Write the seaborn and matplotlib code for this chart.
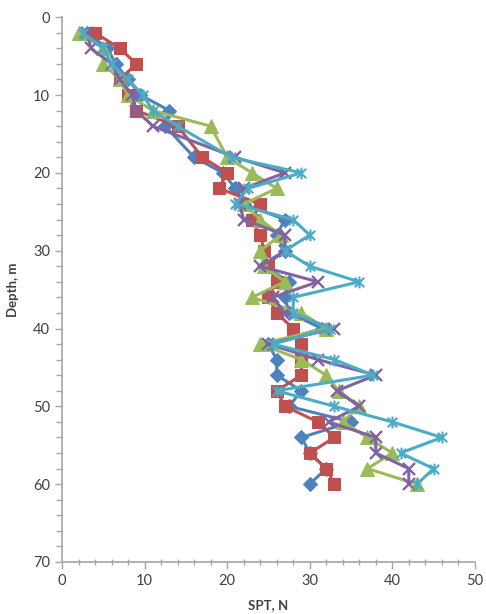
import numpy as np
import matplotlib
matplotlib.use("Agg")
import matplotlib.pyplot as plt
from matplotlib.path import Path
from matplotlib.ticker import MultipleLocator
import seaborn as sns

depth = [2, 4, 6, 8, 10, 12, 14, 18, 20, 22, 24, 26, 28, 30, 32, 34, 36, 38,
         40, 42, 44, 46, 48, 50, 52, 54, 56, 58, 60]

series_blue = [3, 5.5, 6.5, 8, 9.5, 13, 12.5, 16, 19.5, 21, 22, 27, 26, 27,
               24.5, 27.5, 27, 27.5, 31.5, 25, 26, 26, 29, 27.5, 35, 29, 30, 32, 30]
series_red = [4, 7, 9, 7, 8, 9, 14, 17, 20, 19, 24, 23, 24, 24.5,
              25, 26, 25, 26, 28, 29, 29, 29, 26, 27, 31, 33, 30, 32, 33]
series_green = [2, 5, 5, 7, 8, 11, 18, 20, 23, 26, 22, 24, 26.5, 24,
                24.5, 27, 23, 29, 32, 24, 29, 32, 33.5, 36, 34, 37, 40, 37, 43]
series_purple = [3, 3.5, 6, 7, 8.5, 9, 11, 21, 27, 22, 21.5, 22, 27, 27,
                 24, 31, 25.5, 27, 33, 25, 31, 38, 33.3, 36, 32.3, 38, 38, 42, 42]
series_cyan = [2.5, 5, 6, 8, 9.8, 11, 14, 20.5, 29, 22.5, 21, 28, 30, 27,
               30, 36, 28, 28, 32.5, 25.5, 33, 37.7, 26, 33, 40, 46, 41, 45, 43]

x_ticks = [0, 10, 20, 30, 40, 50]
y_ticks = [0, 10, 20, 30, 40, 50, 60, 70]

star = Path([(-1, -1), (1, 1), (-1, 1), (1, -1), (0, -1.25), (0, 1.25)],
            [Path.MOVETO, Path.LINETO, Path.MOVETO, Path.LINETO, Path.MOVETO, Path.LINETO])

sns.set_theme(style="white")
plt.rcParams['font.family'] = ['Lato', 'DejaVu Sans']

fig = plt.figure(figsize=(4.86, 6.14), dpi=100)
ax = fig.add_axes([0.1276, 0.0847, 0.977 - 0.1276, 0.972 - 0.0847])

specs = [
    (series_blue, "#4F81BD", "D", 7.5, {}),
    (series_red, "#C0504D", "s", 9, {}),
    (series_green, "#9BBB59", "^", 10, {}),
    (series_purple, "#8064A2", "x", 8.5, {"markeredgewidth": 1.7}),
    (series_cyan, "#4BACC6", star, 8.5, {"markeredgewidth": 1.5}),
]
for vals, col, mk, ms, extra in specs:
    sns.lineplot(x=vals, y=depth, sort=False, estimator=None, ax=ax,
                 color=col, linewidth=2.2, marker=mk, markersize=ms,
                 markeredgecolor=col, markerfacecolor=col, legend=False, **extra)

ax.set_xlim(0, 50)
ax.set_ylim(70, 0)
ax.set_xticks(x_ticks)
ax.set_yticks(y_ticks)
ax.xaxis.set_minor_locator(MultipleLocator(2))
ax.yaxis.set_minor_locator(MultipleLocator(2))

for s in ["top", "right"]:
    ax.spines[s].set_visible(False)
for s in ["left", "bottom"]:
    ax.spines[s].set_color("#A6A6A6")
    ax.spines[s].set_linewidth(1.2)

ax.tick_params(axis="both", which="both", color="#A6A6A6", width=1.0,
               labelsize=10.5, labelcolor="#404040")
ax.tick_params(axis="x", which="major", direction="out", length=5, bottom=True)
ax.tick_params(axis="x", which="minor", direction="inout", length=5, bottom=True)
ax.tick_params(axis="y", which="major", direction="out", length=5, left=True)
ax.tick_params(axis="y", which="minor", direction="out", length=4, left=True)

ax.set_xlabel("SPT, N", fontsize=9.5, fontweight="bold", color="#404040", labelpad=8)
ax.set_ylabel("Depth, m", fontsize=9.5, fontweight="bold", color="#404040", labelpad=10)

fig.savefig("out.png", dpi=100)
